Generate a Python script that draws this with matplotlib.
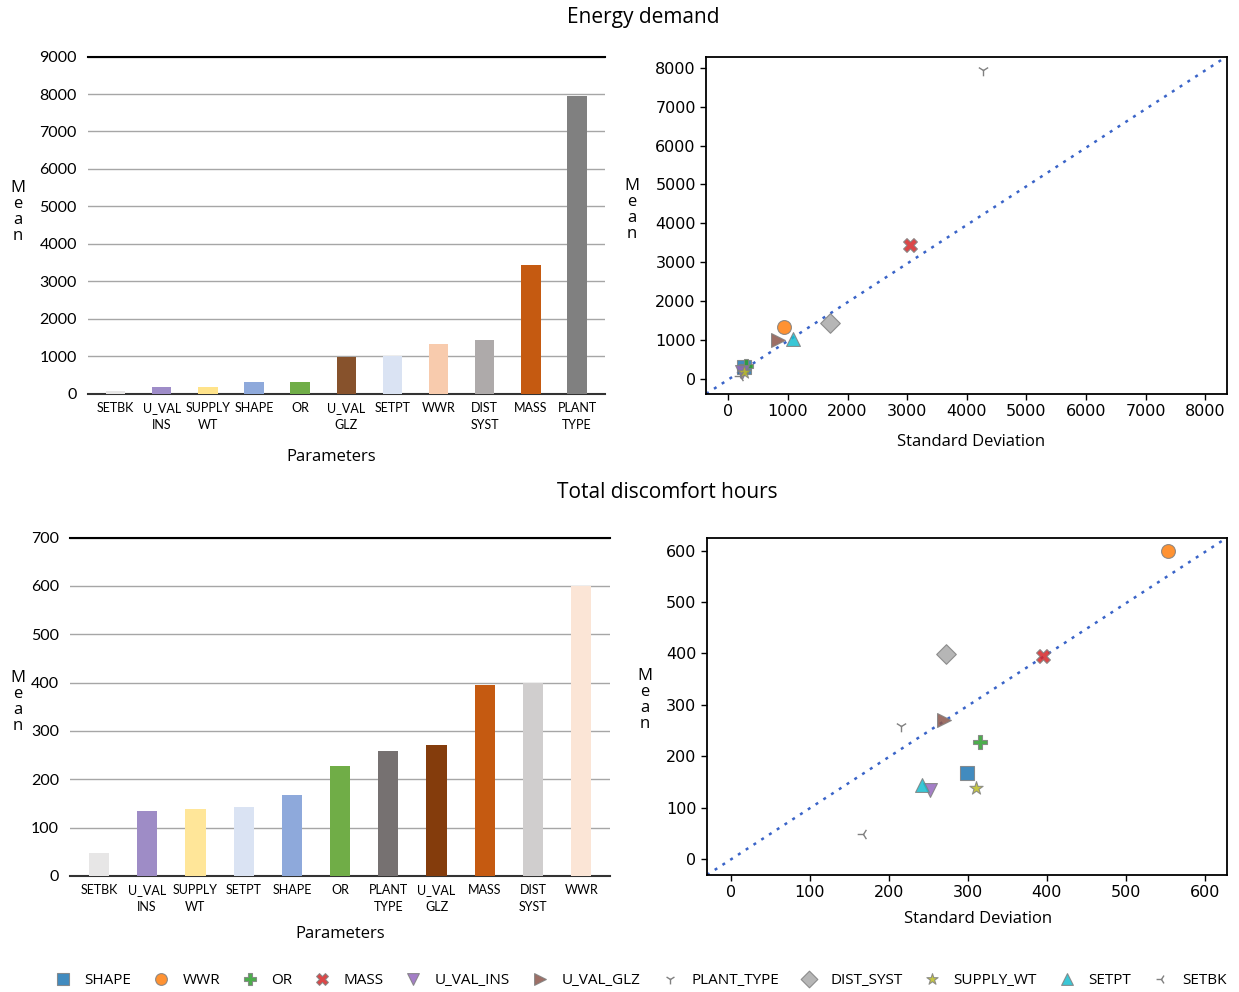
import matplotlib
matplotlib.use("Agg")
import matplotlib.pyplot as plt
import numpy as np

# Parameters in legend order
params = ["SHAPE", "WWR", "OR", "MASS", "U_VAL_INS", "U_VAL_GLZ",
          "PLANT_TYPE", "DIST_SYST", "SUPPLY_WT", "SETPT", "SETBK"]

# Energy demand: mean and standard deviation per parameter
energy_mean = [315, 1340, 322, 3450, 185, 990, 7950, 1440, 187, 1015, 80]
energy_std = [270, 940, 290, 3050, 230, 840, 4280, 1710, 260, 1090, 200]

# Total discomfort hours: mean and standard deviation per parameter
disc_mean = [167, 600, 228, 395, 135, 270, 258, 399, 139, 143, 48]
disc_std = [299, 553, 316, 395, 252, 270, 215, 273, 311, 242, 168]

markers = {"SHAPE": "s", "WWR": "o", "OR": "P", "MASS": "X", "U_VAL_INS": "v",
           "U_VAL_GLZ": ">", "PLANT_TYPE": "1", "DIST_SYST": "D",
           "SUPPLY_WT": "*", "SETPT": "^", "SETBK": "3"}
mcolors = {"SHAPE": "tab:blue", "WWR": "tab:orange", "OR": "tab:green",
           "MASS": "tab:red", "U_VAL_INS": "tab:purple", "U_VAL_GLZ": "tab:brown",
           "PLANT_TYPE": "gray", "DIST_SYST": "darkgray", "SUPPLY_WT": "tab:olive",
           "SETPT": "tab:cyan", "SETBK": "gray"}

energy_bar_colors = {"SETBK": "#E7E6E6", "U_VAL_INS": "#9E8CC8", "SUPPLY_WT": "#FFE38A",
                     "SHAPE": "#8EA9DB", "OR": "#70AD47", "U_VAL_GLZ": "#87522C",
                     "SETPT": "#DAE3F3", "WWR": "#F8CBAD", "DIST_SYST": "#AEAAAA",
                     "MASS": "#C55A11", "PLANT_TYPE": "#808080"}
disc_bar_colors = {"SETBK": "#E7E6E6", "U_VAL_INS": "#9E8CC6", "SUPPLY_WT": "#FFE699",
                   "SETPT": "#DAE3F3", "SHAPE": "#8EA9DB", "OR": "#70AD47",
                   "PLANT_TYPE": "#767171", "U_VAL_GLZ": "#843C0C", "MASS": "#C55A11",
                   "DIST_SYST": "#D0CECE", "WWR": "#FBE5D6"}

plt.rcParams["font.family"] = ["DejaVu Sans"]
label_font = "Lato"


def two_line(name):
    if "_" in name:
        head, tail = name.rsplit("_", 1)
        return head + "\n" + tail
    return name


def bar_panel(ax, means, colors, ymax, step):
    order = np.argsort(means)
    names = [params[i] for i in order]
    vals = [means[i] for i in order]
    x = np.arange(len(names))
    ax.bar(x, vals, width=0.42, color=[colors[n] for n in names], zorder=3)
    ax.set_xticks(x)
    ax.set_xticklabels([two_line(n) for n in names], fontsize=9,
                       family=label_font, va="top", linespacing=1.5)
    ax.set_xlim(-0.6, len(names) - 0.4)
    ax.set_ylim(0, ymax)
    ax.set_yticks(np.arange(0, ymax + 1, step))
    ax.tick_params(axis="y", length=0, labelsize=11.5, pad=8)
    ax.tick_params(axis="x", length=0, pad=6)
    ax.grid(axis="y", color="#A6A6A6", linewidth=1.0, zorder=0)
    for s in ["left", "right"]:
        ax.spines[s].set_visible(False)
    ax.spines["top"].set_color("black")
    ax.spines["top"].set_linewidth(1.5)
    ax.spines["bottom"].set_color("#333333")
    ax.spines["bottom"].set_linewidth(1.5)
    for t in ax.get_yticklabels():
        t.set_family(label_font)


def scatter_panel(ax, means, stds, lo, hi, ticks):
    handles = []
    for p, m, s in zip(params, means, stds):
        kw = dict(marker=markers[p], s=100, zorder=3)
        if markers[p] in ("1", "3"):
            kw.update(color=mcolors[p], s=70, linewidths=1.0)
        else:
            kw.update(color=mcolors[p], edgecolors="gray", linewidths=0.8, alpha=0.85)
        handles.append(ax.scatter(s, m, label=p, **kw))
    ax.plot([lo[0], hi[0]], [lo[1], hi[1]], linestyle=(0, (1.2, 2.5)), color="#3A64C8",
            linewidth=1.8, zorder=2)
    ax.set_xlim(lo[0], hi[0])
    ax.set_ylim(lo[1], hi[1])
    ax.set_xticks(ticks)
    ax.set_yticks(ticks)
    ax.tick_params(labelsize=11.5, length=4, width=1)
    for sp in ax.spines.values():
        sp.set_linewidth(1.3)
    return handles


fig = plt.figure(figsize=(12.39, 9.92), dpi=100)

ax1 = fig.add_axes([0.071, 0.603, 0.417, 0.340])
bar_panel(ax1, energy_mean, energy_bar_colors, 9000, 1000)

ax2 = fig.add_axes([0.570, 0.603, 0.420, 0.340])
scatter_panel(ax2, energy_mean, energy_std, (-370, -385), (8360, 8290),
              np.arange(0, 8001, 1000))

ax3 = fig.add_axes([0.0565, 0.117, 0.436, 0.341])
bar_panel(ax3, disc_mean, disc_bar_colors, 700, 100)

ax4 = fig.add_axes([0.5706, 0.118, 0.4197, 0.340])
handles = scatter_panel(ax4, disc_mean, disc_std, (-30, -31), (628, 625),
                        np.arange(0, 601, 100))

title_kw = dict(fontsize=15, family="Open Sans", ha="center", va="center")
fig.text(643 / 1239, 1 - 18 / 992, "Energy demand", **title_kw)
fig.text(667 / 1239, 1 - 492 / 992, "Total discomfort hours", **title_kw)

lab_kw = dict(fontsize=12, family="Open Sans", ha="center", va="center")
fig.text(331 / 1239, 1 - 457 / 992, "Parameters", **lab_kw)
fig.text(340 / 1239, 1 - 934 / 992, "Parameters", **lab_kw)
fig.text(971 / 1239, 1 - 442 / 992, "Standard Deviation", **lab_kw)
fig.text(978 / 1239, 1 - 919 / 992, "Standard Deviation", **lab_kw)

mean_kw = dict(fontsize=12, family="Open Sans", ha="center", va="center", linespacing=1.0)
fig.text(18 / 1239, 1 - 212 / 992, "M\ne\na\nn", **mean_kw)
fig.text(18 / 1239, 1 - 702 / 992, "M\ne\na\nn", **mean_kw)
fig.text(632 / 1239, 1 - 210 / 992, "M\ne\na\nn", **mean_kw)
fig.text(645 / 1239, 1 - 700 / 992, "M\ne\na\nn", **mean_kw)

fig.legend(handles=handles, labels=params, loc="center", ncol=11, frameon=False,
           bbox_to_anchor=(641 / 1239, 1 - 980 / 992),
           prop={"family": "Open Sans", "size": 11}, handletextpad=0.9,
           handlelength=1.0, columnspacing=1.45, markerscale=0.85)

fig.savefig("out.png", dpi=100)
